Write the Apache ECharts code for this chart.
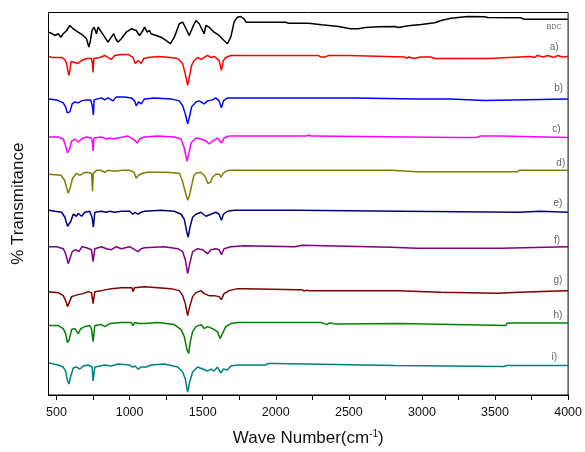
<!DOCTYPE html>
<html>
<head>
<meta charset="utf-8">
<script src="https://cdn.jsdelivr.net/npm/echarts@6/dist/echarts.min.js"></script>
<style>
html,body{margin:0;padding:0;background:#fff;}
#chart{width:585px;height:452px;}
</style>
</head>
<body>
<div id="chart"></div>
<script>
// Spectrum names, colours and vertical offsets (arbitrary transmittance units)
var names = ['BDC', 'a)', 'b)', 'c)', 'd)', 'e)', 'f)', 'g)', 'h)', 'i)'];
var colors = ['#000000', '#ff0000', '#0000ff', '#ff00ff', '#808000', '#000080', '#800080', '#800000', '#008000', '#008080'];
var offsets = [373, 340, 297.5, 259.3, 225, 185, 148.5, 105.5, 72.5, 31];

// x tick values
var tickValues = [500, 750, 1000, 1250, 1500, 1750, 2000, 2250, 2500, 2750, 3000, 3250, 3500, 3750, 4000];
var labelValues = [500, 1000, 1500, 2000, 2500, 3000, 3500, 4000];

// each spectrum: [wavenumber, transmittance relative to its offset]
var specBDC = [[448,-9.7],[470,-11.3],[489,-13],[512,-11.3],[530,-14.7],[546,-11.3],[569,-8],[591,-3],[614,-6.3],[648,-9.7],[682,-13],[705,-16.3],[721,-24.7],[732,-18],[743,-8],[757,-4.7],[773,-11.3],[784,-4.7],[807,-9.7],[830,-14.7],[852,-19.7],[875,-14.7],[891,-11.3],[905,-16.3],[920,-19.7],[943,-16.3],[977,-9.7],[1011,-6.3],[1045,-8],[1068,-13],[1091,-8],[1102,-4.7],[1120,-9.7],[1136,-8],[1147,-11.3],[1181,-13],[1215,-14.7],[1249,-18],[1279,-21.3],[1306,-14.7],[1340,-1.3],[1363,0.3],[1386,-6.3],[1408,-13],[1431,-4.7],[1454,2],[1476,-1.3],[1499,-8],[1510,-11.3],[1522,-3],[1544,-4.7],[1578,-9.7],[1612,-13],[1646,-18],[1669,-21.3],[1692,-14.7],[1715,0.3],[1737,5.3],[1760,6],[1783,3.7],[1796,0.3],[2068,0.3],[2089,-0.7],[2225,-0.7],[2237,0],[2314,-2.3],[2429,-4],[2510,-6.3],[2565,-6.3],[2613,-5],[2702,-4.3],[2815,-4],[2838,-5],[2906,-3.3],[2995,-2],[3088,-0.3],[3131,2],[3199,4.3],[3314,6],[3428,5.7],[3450,5],[3675,4.7],[3700,3.3],[4000,3.3]];

var specA = [[448,-1],[470,-2],[535,-2],[555,-4],[569,-8],[578,-16],[585,-20],[592,-14],[600,-6],[625,-7],[648,-8],[671,-5],[705,-3],[739,-3],[745,-8],[750,-17],[755,-3],[796,-2],[830,0],[852,-2],[875,-4],[898,0],[943,1],[989,1],[1023,-2],[1038,-8],[1057,-5],[1079,-8],[1097,-3],[1125,-2],[1193,-1],[1283,-2],[1329,-3],[1363,-8],[1386,-22],[1397,-30],[1411,-20],[1424,-10],[1442,-5],[1465,-2],[1488,-4],[1510,-2],[1533,0],[1556,-2],[1578,-1],[1612,-5],[1628,-15],[1642,-5],[1658,-2],[1692,0],[1783,0],[2290,0],[2306,-1.5],[2318,0],[2340,-1.5],[2362,0],[2497,0],[2505,-1.5],[2880,-1.5],[2895,-3],[2910,-1.5],[2950,-3],[2990,-1.5],[3060,-1.5],[3090,-3],[3450,-3],[3460,-1],[3740,-1],[3750,0],[3770,-2],[3790,0],[3830,-1.5],[3860,0],[3900,-2],[3930,0],[3960,-1.5],[4000,-1]];

var specB = [[448,-1],[501,-2],[546,-5],[562,-9],[574,-15],[580,-17],[591,-14],[607,-6],[625,-4],[648,-5],[671,-3],[705,-2],[734,-2],[746,-9],[752,-17],[757,-2],[807,0],[830,-2],[852,0],[886,-3],[909,1],[966,1],[1011,0],[1034,-3],[1045,-8],[1061,-4],[1079,-6],[1102,-1],[1170,0],[1283,-1],[1340,-3],[1363,-8],[1381,-16],[1397,-26],[1411,-18],[1424,-9],[1454,-4],[1476,-3],[1510,-6],[1533,-3],[1567,-2],[1590,0],[1612,-3],[1628,-10],[1642,-3],[1669,0],[1783,0],[2350,0],[2361,1],[2372,0],[2535,0],[2543,-1],[2960,-1],[2970,-3],[2980,-1],[3190,-1],[3199,-2.5],[3430,-2.5],[3440,-1],[4000,-1]];

var specC = [[448,-1],[512,-1],[546,-3],[562,-10],[575,-17],[589,-13],[603,-5],[625,-3],[648,-6],[671,-3],[705,-1],[739,-2],[745,-6],[750,-15],[756,-2],[807,-1],[841,-3],[864,-2],[886,-3],[920,-2],[989,0],[1034,-4],[1052,-7],[1068,-3],[1102,-1],[1193,0],[1306,-1],[1352,-3],[1374,-12],[1392,-25],[1406,-17],[1420,-7],[1454,-2],[1488,-3],[1522,-5],[1544,-8],[1567,-5],[1601,-2],[1628,-7],[1646,-2],[1680,0],[1783,0],[2210,0],[2225,1],[2240,0],[2259,0],[2270,-1.5],[3240,-1.5],[3250,0],[3260,-1.5],[3360,-1.5],[3370,0],[3385,-1],[3400,0],[3540,0],[3550,-1.5],[4000,-1.5]];

var specD = [[448,-4],[530,-5],[555,-10],[570,-18],[580,-23],[592,-18],[610,-8],[637,-3],[660,-5],[680,-3],[705,-2],[740,-3],[746,-21],[752,-3],[773,0],[800,0],[830,-2],[850,0],[900,-1],[950,0],[1000,0],[1030,-2],[1045,-8],[1060,-5],[1089,-3],[1120,-2],[1157,-2],[1250,-2],[1340,-3],[1360,-10],[1374,-18],[1397,-30],[1410,-25],[1420,-18],[1440,-5],[1454,-3],[1488,-2],[1510,-5],[1522,-8],[1535,-13],[1544,-15],[1555,-12],[1567,-7],[1590,-4],[1601,-3],[1615,-4],[1624,-7],[1640,-3],[1658,-1],[1680,0],[2790,0],[2800,-1.5],[2965,-1.5],[2974,-3],[2983,-1.5],[3630,-1.5],[3640,0],[3650,-1.5],[3665,0],[3675,-1.5],[3685,0],[4000,0]];

var specE = [[448,0],[489,-1],[535,-2],[557,-7],[575,-16],[587,-17],[598,-11],[614,-4],[637,-6],[648,-3],[671,-6],[694,-2],[727,-1],[743,-7],[752,-17],[762,-2],[807,-1],[841,-2],[864,-1],[898,-2],[943,-1],[1000,-1],[1023,-4],[1038,-2],[1057,-4],[1079,-2],[1102,-1],[1215,0],[1306,-1],[1352,-4],[1374,-9],[1390,-21],[1401,-27],[1413,-17],[1431,-7],[1454,-4],[1488,-2],[1522,-6],[1556,-4],[1590,-2],[1612,-4],[1628,-10],[1642,-4],[1669,-1],[1715,0],[1783,0],[2137,0],[2145,-1],[2855,-1],[2865,-2],[3670,-2],[3680,-1],[3810,-1],[3820,-2],[4000,-2]];

var specF = [[448,0],[501,0],[546,-2],[562,-7],[580,-17],[591,-15],[607,-5],[630,-3],[653,-5],[675,0],[705,-1],[739,-3],[750,-15],[762,-2],[807,0],[841,-2],[875,-3],[909,0],[943,-2],[1000,0],[1034,-3],[1057,-5],[1079,-2],[1102,-1],[1238,0],[1329,-2],[1363,-5],[1381,-13],[1397,-27],[1411,-17],[1431,-5],[1465,-2],[1499,-3],[1533,-7],[1556,-3],[1590,-2],[1612,-3],[1628,-8],[1646,-2],[1692,0],[1783,1],[2130,0],[2140,1.5],[2180,1.5],[2190,0],[2790,-0.5],[2800,-1.5],[2965,-1.5],[2974,-3],[2983,-1.5],[3540,-1.5],[3550,0],[4000,0]];

var specG = [[448,-2],[512,-3],[546,-6],[562,-11],[575,-17],[587,-16],[603,-7],[625,-6],[648,-5],[682,-4],[716,-2],[739,-3],[750,-14],[762,-2],[807,-1],[875,1],[943,2],[1016,2],[1023,-2],[1034,2],[1102,3],[1193,2],[1283,1],[1340,-1],[1363,-6],[1381,-14],[1397,-26],[1411,-17],[1431,-7],[1454,-3],[1488,-1],[1510,-4],[1544,-6],[1578,-6],[1612,-7],[1628,-10],[1646,-4],[1680,-1],[1737,1],[1783,1],[2157,0],[2168,-1.5],[2180,0],[2195,-1.5],[2210,-0.5],[2235,-1],[2838,-1],[2848,-2.5],[3131,-2.5],[3140,-3.5],[3518,-3.5],[3528,-2.5],[3666,-2.5],[3676,-1],[3980,-1],[3990,-2.5],[4000,-1]];

var specH = [[448,-3],[512,-3],[546,-6],[562,-11],[575,-20],[587,-17],[603,-7],[625,-6],[648,-11],[666,-6],[694,-4],[727,-3],[739,-6],[750,-19],[762,-3],[807,-2],[830,-4],[864,-1],[943,0],[1011,0],[1023,-3],[1034,0],[1068,-1],[1102,-1],[1193,0],[1306,-2],[1352,-7],[1374,-14],[1392,-27],[1404,-31],[1415,-19],[1431,-9],[1454,-4],[1488,-2],[1510,-6],[1533,-4],[1567,-6],[1601,-9],[1619,-16],[1635,-11],[1658,-4],[1692,-1],[1737,0],[1783,0],[2314,0],[2325,-1.5],[2350,-2],[2365,-0.5],[2385,-0.5],[2405,-1.5],[2838,-1],[2848,-3],[3574,-3],[3584,-0.5],[4000,-0.5]];

var specI = [[448,1],[512,-1],[546,-3],[562,-7],[575,-17],[585,-20],[596,-13],[614,-4],[637,-3],[660,-5],[682,-2],[716,-1],[743,-3],[750,-17],[762,-3],[796,-2],[830,-1],[875,-2],[920,0],[1000,-1],[1023,-3],[1038,-2],[1057,-5],[1079,-3],[1113,-3],[1147,-1],[1238,0],[1329,-3],[1363,-8],[1381,-15],[1397,-28],[1411,-18],[1431,-8],[1465,-3],[1499,-5],[1533,-7],[1556,-5],[1578,-7],[1601,-3],[1624,-9],[1642,-5],[1669,-6],[1692,-2],[1737,-1],[1783,-1],[1930,-1],[1945,0.5],[1990,0.5],[2000,-1],[2817,-1.5],[2827,-2.5],[3560,-2.5],[3566,-1],[3572,-3],[3580,-1.5],[4000,-1.5]];

var spectra = [specBDC, specA, specB, specC, specD, specE, specF, specG, specH, specI];

// label placement (style, not data)
var labelWn = [3905, 3905, 3935, 3920, 3950, 3930, 3925, 3930, 3930, 3905];
var labelDy = [-5, 8, 9.5, 6.5, 7, 7, 6.5, 9.5, 7.5, 7];

var series = spectra.map(function (spec, k) {
  var data = spec.map(function (p) { return [p[0], p[1] + offsets[k]]; });
  return {
    name: names[k],
    type: 'line',
    data: data,
    symbol: 'none',
    smooth: false,
    silent: true,
    animation: false,
    lineStyle: { color: colors[k], width: 1.5 },
    markPoint: {
      symbol: 'circle',
      symbolSize: 0,
      animation: false,
      data: [{
        coord: [labelWn[k], offsets[k] + labelDy[k]],
        label: {
          show: true,
          formatter: names[k],
          position: 'inside',
          color: '#666',
          fontSize: k === 0 ? 7 : 10,
          fontFamily: 'Liberation Sans, Arial, sans-serif'
        }
      }]
    }
  };
});

var chart = echarts.init(document.getElementById('chart'), null, { renderer: 'canvas' });
chart.setOption({
  backgroundColor: '#ffffff',
  animation: false,
  grid: {
    left: 48.5, right: 15, top: 12.5, bottom: 57,
    show: true, borderColor: '#000', borderWidth: 1, backgroundColor: 'transparent'
  },
  xAxis: {
    type: 'value',
    min: 445,
    max: 4000,
    name: 'Wave Number(cm{sup|-1})',
    nameLocation: 'middle',
    nameGap: 34,
    nameTextStyle: {
      fontSize: 17,
      color: '#111',
      fontFamily: 'Liberation Sans, Arial, sans-serif',
      rich: { sup: { fontSize: 10, verticalAlign: 'top', padding: [0, 0, 9, 0], color: '#111' } }
    },
    axisLine: { show: true, onZero: false, lineStyle: { color: '#000', width: 1 } },
    axisTick: { show: true, inside: false, length: 5, customValues: tickValues, lineStyle: { color: '#000' } },
    axisLabel: {
      show: true, customValues: labelValues, margin: 11,
      fontSize: 12.5, color: '#111', fontFamily: 'Liberation Sans, Arial, sans-serif',
      formatter: function (v) { return String(v); },
      showMaxLabel: true, showMinLabel: true
    },
    splitLine: { show: false }
  },
  yAxis: {
    type: 'value',
    min: 0,
    max: 383,
    name: '% Transmitance',
    nameLocation: 'middle',
    nameGap: 22,
    nameTextStyle: { fontSize: 17, color: '#111', fontFamily: 'Liberation Sans, Arial, sans-serif' },
    axisLine: { show: true, lineStyle: { color: '#000', width: 1 } },
    axisTick: { show: false },
    axisLabel: { show: false },
    splitLine: { show: false }
  },
  series: series
});
</script>
</body>
</html>
